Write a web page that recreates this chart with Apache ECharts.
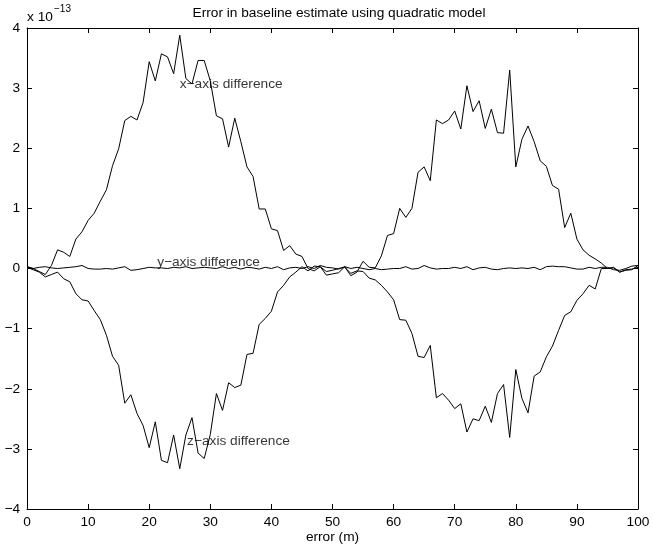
<!DOCTYPE html>
<html>
<head>
<meta charset="utf-8">
<script src="https://cdn.jsdelivr.net/npm/echarts@6/dist/echarts.min.js"></script>
<style>html,body{margin:0;padding:0;background:#fff}#c{width:654px;height:546px}</style>
</head>
<body>
<div id="c"></div>
<script>
const xs = Array.from({length: 101}, (_, i) => i);
const xDiff = [0.03,0.0,-0.05,-0.1,0.05,0.31,0.27,0.20,0.49,0.61,
0.80,0.92,1.12,1.31,1.71,1.99,2.46,2.53,2.47,2.76,
3.44,3.12,3.57,3.52,3.24,3.88,3.16,3.07,3.46,3.46,
3.12,2.54,2.49,2.02,2.50,2.11,1.69,1.53,0.99,0.99,
0.66,0.63,0.30,0.38,0.24,0.20,0.0,-0.04,0.03,-0.11,
-0.09,-0.07,0.03,-0.12,-0.06,0.12,0.02,0.01,0.21,0.55,
0.58,1.0,0.85,1.0,1.60,1.69,1.46,2.47,2.41,2.47,
2.62,2.32,3.04,2.61,2.79,2.33,2.65,2.26,2.25,3.30,
1.69,2.15,2.37,2.11,1.79,1.70,1.38,1.32,0.68,0.92,
0.49,0.31,0.22,0.16,0.09,0.0,0.02,-0.06,-0.03,-0.02,0.05];
const yDiff = [0.03,0.0,0.02,0.03,0.01,0.0,0.01,0.02,0.03,0.05,
0.0,-0.01,-0.01,0.0,-0.01,0.01,0.03,-0.03,-0.02,0.0,
0.02,0.01,0.01,0.0,0.02,0.01,0.03,0.0,0.01,0.02,
0.01,0.0,0.03,0.0,0.02,-0.01,0.02,0.01,-0.01,0.02,
0.0,0.03,-0.02,0.01,0.02,0.0,0.03,0.0,0.05,0.02,
0.01,-0.01,0.03,0.0,0.02,0.0,-0.02,0.0,-0.02,-0.01,
0.0,0.0,0.03,-0.01,0.0,0.05,0.01,-0.01,0.0,0.0,
0.02,0.0,0.03,-0.02,0.01,0.02,-0.01,-0.02,0.0,0.01,
0.0,0.01,0.0,0.02,-0.02,0.03,0.04,0.03,0.03,0.01,
-0.01,-0.01,0.02,0.0,0.02,0.02,-0.02,-0.03,0.0,0.04,0.05];
const zDiff = [0.02,-0.02,-0.06,-0.14,-0.1,-0.06,-0.17,-0.22,-0.42,-0.52,
-0.54,-0.70,-0.85,-1.11,-1.46,-1.61,-2.24,-2.10,-2.41,-2.61,
-2.98,-2.55,-3.19,-3.23,-2.77,-3.33,-2.77,-2.48,-3.07,-3.16,
-2.76,-2.08,-2.36,-1.90,-1.98,-1.94,-1.43,-1.41,-0.93,-0.83,
-0.71,-0.39,-0.28,-0.14,-0.06,0.03,-0.04,0.04,0.03,-0.05,
-0.03,0.0,0.02,-0.08,-0.04,-0.05,-0.16,-0.19,-0.28,-0.39,
-0.52,-0.85,-0.86,-1.08,-1.46,-1.48,-1.28,-2.15,-2.08,-2.19,
-2.33,-2.25,-2.72,-2.50,-2.53,-2.29,-2.56,-2.08,-1.93,-2.81,
-1.68,-2.16,-2.40,-1.79,-1.72,-1.47,-1.29,-1.03,-0.78,-0.72,
-0.53,-0.42,-0.28,-0.34,0.0,0.0,0.01,-0.06,-0.02,-0.01,0.02];
const labelText = ['x\u2212axis difference','y\u2212axis difference','z\u2212axis difference'];
const labelX = [25, 21.3, 26.2];
const labelY = [3.06, 0.1, -2.88];
const xTicks = [0,10,20,30,40,50,60,70,80,90,100];
const yTicks = [-4,-3,-2,-1,0,1,2,3,4];

const font = 'Liberation Sans, Arial, Helvetica, sans-serif';
const fs = 13.7;
const chart = echarts.init(document.getElementById('c'), null, {renderer: 'canvas'});
const pairs = arr => xs.map((x, i) => [x, arr[i]]);
const lineStyle = {color: '#000', width: 1};
const fmt = v => String(v).replace('-', '\u2212');
const axisCommon = {
  axisLine: {show: true, onZero: false, lineStyle: {color: '#000', width: 1}},
  axisTick: {show: true, inside: true, length: 5, lineStyle: {color: '#000'}},
  splitLine: {show: false}
};
chart.setOption({
  animation: false,
  backgroundColor: '#fff',
  title: {text: 'Error in baseline estimate using quadratic model', left: 334, top: 1, textAlign: 'center',
    textStyle: {fontFamily: font, fontSize: fs, fontWeight: 'normal', color: '#000'}},
  grid: {left: 27, right: 16, top: 28, bottom: 37, containLabel: false, outerBoundsMode: 'none'},
  xAxis: [
    Object.assign({type: 'value', min: 0, max: 100, interval: 10, position: 'bottom',
      name: 'error (m)', nameLocation: 'middle', nameGap: 21, nameMoveOverlap: false,
      nameTextStyle: {fontFamily: font, fontSize: fs, color: '#000', verticalAlign: 'top'},
      axisLabel: {fontFamily: font, fontSize: fs, color: '#000', margin: 6,
        customValues: xTicks}}, axisCommon),
    Object.assign({type: 'value', min: 0, max: 100, interval: 10, position: 'top',
      axisLabel: {show: false}}, axisCommon)
  ],
  yAxis: [
    Object.assign({type: 'value', min: -4, max: 4, interval: 1, position: 'left',
      axisLabel: {fontFamily: font, fontSize: fs, color: '#000', margin: 7, formatter: fmt,
        customValues: yTicks}}, axisCommon),
    Object.assign({type: 'value', min: -4, max: 4, interval: 1, position: 'right',
      axisLabel: {show: false}}, axisCommon)
  ],
  graphic: [
    {type: 'text', left: 27, top: 10, style: {text: 'x 10', font: fs + 'px ' + font, fill: '#000'}},
    {type: 'text', left: 54, top: 4, style: {text: '\u221213', font: '10px ' + font, fill: '#000'}}
  ],
  series: [
    {type: 'line', data: pairs(xDiff), showSymbol: false, lineStyle, silent: true},
    {type: 'line', data: pairs(yDiff), showSymbol: false, lineStyle, silent: true},
    {type: 'line', data: pairs(zDiff), showSymbol: false, lineStyle, silent: true},
    {type: 'scatter', symbolSize: 0, silent: true,
      data: labelText.map((t, i) => ({value: [labelX[i], labelY[i]], name: t})),
      label: {show: true, position: 'right', distance: 0, formatter: p => p.name,
        fontFamily: font, fontSize: fs, color: '#000'}}
  ]
});
</script>
</body>
</html>
